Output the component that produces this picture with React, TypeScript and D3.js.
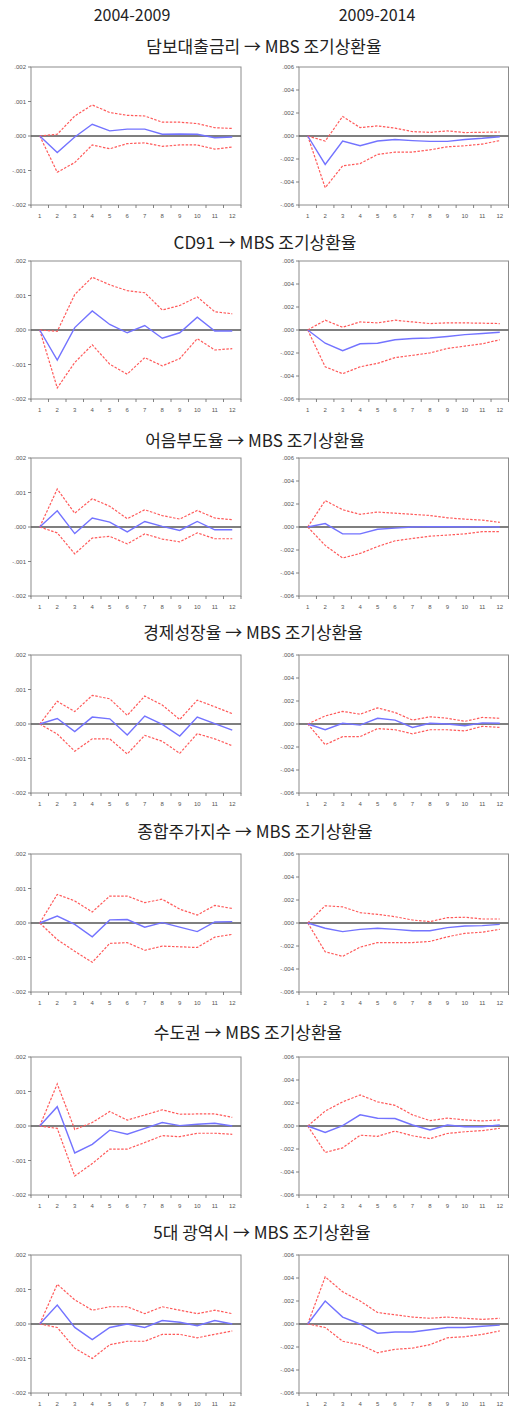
import React from "react";
import * as d3 from "d3";

const periods = [1, 2, 3, 4, 5, 6, 7, 8, 9, 10, 11, 12];
const headers = ["2004-2009", "2009-2014"];
const shockNames = ["담보대출금리", "CD91", "어음부도율", "경제성장율", "종합주가지수", "수도권", "5대 광역시"];
const responseName = "MBS 조기상환율";
const leftTicks = [0.002, 0.001, 0, -0.001, -0.002];
const rightTicks = [0.006, 0.004, 0.002, 0, -0.002, -0.004, -0.006];

// 2004-2009 (left column)
const mortgageL = [0, -0.00048, -0.00003, 0.00034, 0.00015, 0.0002, 0.0002, 0.00005, 0.00006, 0.00005, -0.00005, -0.00003];
const mortgageLUp = [0, 0.00005, 0.00058, 0.0009, 0.00068, 0.0006, 0.00058, 0.0004, 0.0004, 0.00036, 0.00024, 0.00022];
const mortgageLLo = [0, -0.00105, -0.00077, -0.00026, -0.00037, -0.00022, -0.0002, -0.0003, -0.00026, -0.00026, -0.00038, -0.00032];

const cd91L = [0, -0.00087, 0.00007, 0.00055, 0.00016, -0.00008, 0.00013, -0.00024, -0.00008, 0.00037, -0.00003, -0.00003];
const cd91LUp = [0, -0.00004, 0.00103, 0.00153, 0.00131, 0.00114, 0.00108, 0.00058, 0.00071, 0.00096, 0.00053, 0.00047];
const cd91LLo = [0, -0.00168, -0.00094, -0.00043, -0.00099, -0.00128, -0.0008, -0.00104, -0.00083, -0.00025, -0.00058, -0.00054];

const defaultL = [0, 0.00047, -0.00019, 0.00026, 0.00014, -0.00014, 0.00016, 0.00002, -0.0001, 0.00016, -0.00008, -0.00008];
const defaultLUp = [0, 0.0011, 0.0004, 0.00082, 0.0006, 0.00024, 0.0005, 0.00033, 0.00023, 0.00048, 0.00026, 0.00021];
const defaultLLo = [0, -0.00017, -0.00078, -0.00032, -0.00027, -0.00049, -0.0002, -0.00035, -0.00043, -0.00017, -0.00034, -0.00034];

const growthL = [0, 0.00016, -0.00022, 0.0002, 0.00015, -0.00032, 0.00023, -0.00001, -0.00035, 0.0002, 0.00001, -0.00018];
const growthLUp = [0, 0.00066, 0.00036, 0.00083, 0.00073, 0.00025, 0.00081, 0.00055, 0.00013, 0.00069, 0.0005, 0.0003];
const growthLLo = [0, -0.00029, -0.00079, -0.00043, -0.00043, -0.00087, -0.00033, -0.0005, -0.00085, -0.00028, -0.00043, -0.00063];

const stockL = [0, 0.0002, -0.00004, -0.0004, 0.00009, 0.0001, -0.00012, 0.00001, -0.00012, -0.00025, 0.00003, 0.00004];
const stockLUp = [0, 0.00083, 0.00064, 0.00032, 0.00078, 0.00078, 0.00059, 0.00069, 0.0004, 0.00023, 0.00051, 0.00042];
const stockLLo = [0, -0.00048, -0.00082, -0.00114, -0.00059, -0.00057, -0.00079, -0.00067, -0.00069, -0.00071, -0.00041, -0.00033];

const capitalL = [0, 0.00056, -0.00078, -0.00053, -0.00012, -0.00024, -0.00007, 0.0001, 0.00001, 0.00005, 0.00008, 0];
const capitalLUp = [0, 0.00122, -0.0001, 0.0001, 0.00042, 0.00017, 0.00032, 0.00047, 0.00034, 0.00035, 0.00035, 0.00025];
const capitalLLo = [0, -0.00007, -0.00145, -0.00109, -0.00067, -0.00067, -0.00048, -0.00028, -0.00031, -0.00021, -0.00021, -0.00024];

const metroL = [0, 0.00055, -0.0001, -0.00045, -0.0001, 0, -0.0001, 0.0001, 0.00005, -0.00005, 0.0001, 0];
const metroLUp = [0, 0.00115, 0.0007, 0.0004, 0.0005, 0.0005, 0.0003, 0.0005, 0.0004, 0.0003, 0.0004, 0.0003];
const metroLLo = [0, -0.0001, -0.0007, -0.001, -0.0006, -0.0005, -0.0005, -0.0003, -0.0003, -0.0004, -0.0003, -0.0002];

// 2009-2014 (right column)
const mortgageR = [0, -0.00247, -0.00044, -0.00085, -0.00044, -0.0003, -0.0004, -0.00047, -0.00047, -0.0003, -0.0002, -0.00006];
const mortgageRUp = [0, -0.00044, 0.0017, 0.00073, 0.00088, 0.00068, 0.00038, 0.00032, 0.00044, 0.0003, 0.00032, 0.00035];
const mortgageRLo = [0, -0.0045, -0.0026, -0.0024, -0.0016, -0.0014, -0.0014, -0.0012, -0.00094, -0.00085, -0.0007, -0.0004];

const cd91R = [0, -0.00115, -0.0018, -0.0012, -0.00115, -0.00085, -0.00074, -0.0007, -0.00056, -0.0004, -0.0003, -0.0002];
const cd91RUp = [0, 0.00085, 0.00024, 0.0007, 0.00062, 0.00085, 0.0007, 0.00056, 0.00062, 0.00062, 0.00059, 0.00056];
const cd91RLo = [0, -0.0032, -0.0038, -0.0032, -0.0029, -0.0024, -0.0022, -0.002, -0.0016, -0.0014, -0.0012, -0.00085];

const defaultR = [0, 0.0003, -0.0006, -0.0006, -0.0002, -0.0001, 0, 0.00003, 0.00002, 0, 0.00003, 0];
const defaultRUp = [0, 0.0023, 0.0015, 0.0011, 0.0013, 0.0012, 0.0011, 0.001, 0.0008, 0.00068, 0.0006, 0.0004];
const defaultRLo = [0, -0.0016, -0.0027, -0.0023, -0.0017, -0.0012, -0.001, -0.0008, -0.0007, -0.0006, -0.0004, -0.0004];

const growthR = [0, -0.0005, 0.00006, -0.0001, 0.0005, 0.00034, -0.0003, 0.00006, 0, -0.00015, 0.0001, 0.00006];
const growthRUp = [0, 0.0007, 0.0011, 0.00085, 0.0014, 0.001, 0.00034, 0.00063, 0.0005, 0.00023, 0.00057, 0.0005];
const growthRLo = [0, -0.0018, -0.0011, -0.0011, -0.0004, -0.0005, -0.00085, -0.0005, -0.0005, -0.0006, -0.0002, -0.0003];

const stockR = [0, -0.00046, -0.00075, -0.00055, -0.00046, -0.00055, -0.00067, -0.00067, -0.0004, -0.00026, -0.00023, -0.00012];
const stockRUp = [0, 0.0015, 0.0014, 0.0009, 0.00075, 0.00055, 0.00026, 0.00012, 0.00046, 0.0005, 0.00035, 0.00035];
const stockRLo = [0, -0.0025, -0.0029, -0.0021, -0.0017, -0.0017, -0.0017, -0.0016, -0.0012, -0.0009, -0.0008, -0.00055];

const capitalR = [0, -0.00056, 0.00003, 0.00097, 0.00068, 0.00065, 0.00009, -0.00035, 0.00009, -0.00006, -0.00006, 0.00009];
const capitalRUp = [0, 0.0013, 0.0021, 0.0027, 0.0021, 0.0018, 0.00097, 0.00047, 0.00068, 0.00053, 0.00044, 0.00053];
const capitalRLo = [0, -0.0023, -0.0019, -0.0008, -0.0009, -0.00044, -0.00085, -0.0011, -0.00065, -0.0005, -0.0004, -0.0002];

const metroR = [0, 0.002, 0.0006, 0, -0.0008, -0.0007, -0.0007, -0.0005, -0.0003, -0.0003, -0.0002, -0.0001];
const metroRUp = [0, 0.0041, 0.0028, 0.002, 0.001, 0.0008, 0.0006, 0.0005, 0.0006, 0.0005, 0.0004, 0.0005];
const metroRLo = [0, -0.0003, -0.0015, -0.0018, -0.0025, -0.0022, -0.0021, -0.0018, -0.0012, -0.0011, -0.0009, -0.0006];

const leftSeries = [
  [mortgageL, mortgageLUp, mortgageLLo],
  [cd91L, cd91LUp, cd91LLo],
  [defaultL, defaultLUp, defaultLLo],
  [growthL, growthLUp, growthLLo],
  [stockL, stockLUp, stockLLo],
  [capitalL, capitalLUp, capitalLLo],
  [metroL, metroLUp, metroLLo],
];
const rightSeries = [
  [mortgageR, mortgageRUp, mortgageRLo],
  [cd91R, cd91RUp, cd91RLo],
  [defaultR, defaultRUp, defaultRLo],
  [growthR, growthRUp, growthRLo],
  [stockR, stockRUp, stockRLo],
  [capitalR, capitalRUp, capitalRLo],
  [metroR, metroRUp, metroRLo],
];

// layout
const rowTops = [67, 261, 458, 655, 854, 1057, 1255];
const titleY = [47, 243, 441, 633, 832, 1033, 1233];
const titleX = [264, 265, 255, 253, 255, 248, 262];
const plotH = 138;
const leftX0 = 31, leftX1 = 241;
const rightX0 = 299, rightX1 = 508.5;

const fmt = (v: number) => {
  const s = Math.abs(v).toFixed(3).replace(/^0/, "");
  return v < 0 ? "-" + s : s;
};

function Panel({ x0, x1, top, domainMax, ticks, series }: any) {
  const x = d3.scaleBand<number>().domain(periods).range([x0, x1]);
  const y = d3.scaleLinear().domain([-domainMax, domainMax]).range([top + plotH, top]);
  const cx = (p: number) => (x(p) as number) + x.bandwidth() / 2;
  const line = d3
    .line<number>()
    .x((_, i) => cx(periods[i]))
    .y((d) => y(d));
  const [mid, up, lo] = series;
  const boundaries = periods.map((p) => x(p) as number).concat([x1]);
  return (
    <g>
      <rect x={x0} y={top} width={x1 - x0} height={plotH} fill="white" stroke="#8c8c8c" strokeWidth={1} />
      <line x1={x0} x2={x1} y1={y(0)} y2={y(0)} stroke="#555" strokeWidth={1.6} />
      {ticks.map((t: number) => (
        <g key={t}>
          <line x1={x0 - 3} x2={x0} y1={y(t)} y2={y(t)} stroke="#666" strokeWidth={0.8} />
          <text x={x0 - 5} y={y(t) + 2} fontSize={6} fill="#555" textAnchor="end" fontFamily="Arial, Liberation Sans, sans-serif">
            {fmt(t)}
          </text>
        </g>
      ))}
      {boundaries.map((b, i) => (
        <line key={i} x1={b} x2={b} y1={top + plotH} y2={top + plotH + 3} stroke="#666" strokeWidth={0.8} />
      ))}
      {periods.map((p) => (
        <text key={p} x={cx(p)} y={top + plotH + 13} fontSize={6} fill="#555" textAnchor="middle" fontFamily="Arial, Liberation Sans, sans-serif">
          {p}
        </text>
      ))}
      <path d={line(up) as string} fill="none" stroke="#ff5a5a" strokeWidth={1.2} strokeDasharray="2.5,1.5" />
      <path d={line(lo) as string} fill="none" stroke="#ff5a5a" strokeWidth={1.2} strokeDasharray="2.5,1.5" />
      <path d={line(mid) as string} fill="none" stroke="#7373ff" strokeWidth={1.4} />
    </g>
  );
}

export default function App() {
  return (
    <svg
      width={509}
      height={1406}
      style={{ position: "absolute", left: 0, top: 0, background: "white" }}
      fontFamily="'Noto Sans CJK KR', 'Noto Sans', sans-serif"
    >
      <rect x={0} y={0} width={509} height={1406} fill="white" />
      <text x={132} y={21} fontSize={16} fill="#222" textAnchor="middle">{headers[0]}</text>
      <text x={377} y={21} fontSize={16} fill="#222" textAnchor="middle">{headers[1]}</text>
      {shockNames.map((name, i) => (
        <g key={name}>
          <text x={titleX[i]} y={titleY[i] + 6} fontSize={17} fill="#222" textAnchor="middle">
            {name} → {responseName}
          </text>
          <Panel x0={leftX0} x1={leftX1} top={rowTops[i]} domainMax={0.002} ticks={leftTicks} series={leftSeries[i]} />
          <Panel x0={rightX0} x1={rightX1} top={rowTops[i]} domainMax={0.006} ticks={rightTicks} series={rightSeries[i]} />
        </g>
      ))}
    </svg>
  );
}
